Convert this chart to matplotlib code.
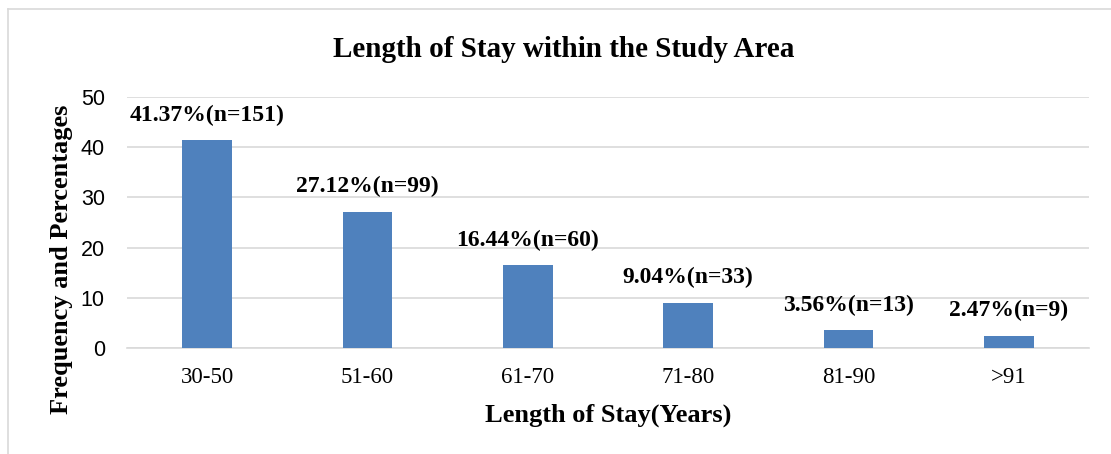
import matplotlib.pyplot as plt
from matplotlib.lines import Line2D

categories = ['30-50', '51-60', '61-70', '71-80', '81-90', '>91']
percentages = [41.37, 27.12, 16.44, 9.04, 3.56, 2.47]
counts = [151, 99, 60, 33, 13, 9]
y_ticks = [0, 10, 20, 30, 40, 50]

serif = 'Liberation Serif'
sans = 'Liberation Sans'

fig = plt.figure(figsize=(11.11, 4.54), dpi=100)
ax = fig.add_axes([0.1143, 0.2335, 0.8659, 0.5528])

x = range(len(categories))
bars = ax.bar(x, percentages, width=0.31, color='#4F81BD', zorder=3)

for bar, pct, n in zip(bars, percentages, counts):
    ax.annotate(f'{pct:.2f}%(n={n})',
                xy=(bar.get_x() + bar.get_width() / 2, bar.get_height()),
                xytext=(0, 25), textcoords='offset pixels',
                ha='center', va='center', fontsize=17, fontweight='bold',
                family=serif)

ax.set_xlim(-0.5, len(categories) - 0.5)
ax.set_ylim(0, 50)
ax.set_yticks(y_ticks)
ax.set_xticks(list(x))
ax.set_xticklabels(categories, family=serif, fontsize=16.5)
for lab in ax.get_yticklabels():
    lab.set_family(sans)
    lab.set_fontsize(15.5)
ax.tick_params(axis='both', length=0)
ax.tick_params(axis='x', pad=14)
ax.tick_params(axis='y', pad=16)

ax.yaxis.grid(True, color='#D9D9D9', linewidth=1.2, zorder=0)
ax.set_axisbelow(True)
for side in ['top', 'right', 'left']:
    ax.spines[side].set_visible(False)
ax.spines['bottom'].set_color('#D9D9D9')
ax.spines['bottom'].set_linewidth(1.2)

ax.set_xlabel('Length of Stay(Years)', family=serif, fontsize=19,
              fontweight='bold')
ax.xaxis.set_label_coords(0.5, -0.268)
ax.set_ylabel('Frequency and Percentages', family=serif, fontsize=19,
              fontweight='bold')
ax.yaxis.set_label_coords(-0.068, 0.355)
ax.yaxis.label.set_va('center')
ax.xaxis.label.set_va('center')

fig.text(0.507, 0.892, 'Length of Stay within the Study Area', family=serif,
         fontsize=21, fontweight='bold', ha='center', va='center')

# chart frame, open on the right and bottom
fig.add_artist(Line2D([8 / 1111, 8 / 1111], [0, 1 - 9 / 454],
                      color='#D9D9D9', linewidth=1.2))
fig.add_artist(Line2D([8 / 1111, 1], [1 - 9 / 454, 1 - 9 / 454],
                      color='#D9D9D9', linewidth=1.2))

fig.savefig('out.png', dpi=100)
